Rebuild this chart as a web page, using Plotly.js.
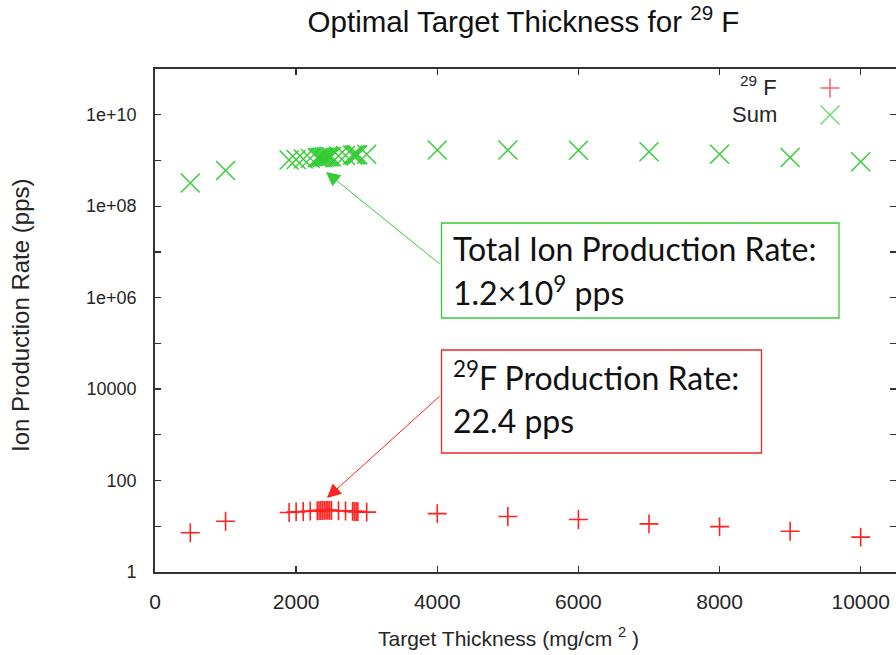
<!DOCTYPE html>
<html>
<head>
<meta charset="utf-8">
<script src="https://cdn.plot.ly/plotly-3.0.1.min.js"></script>
<style>
  html, body { margin: 0; padding: 0; background: #ffffff; }
  #chart { width: 896px; height: 655px; }
</style>
</head>
<body>
<div id="chart"></div>
<script>
// Target thickness scan (mg/cm^2)
const thickness = [500, 1000, 1900, 2000, 2100, 2200, 2300, 2325, 2350, 2375, 2400, 2425,
  2450, 2475, 2500, 2600, 2700, 2800, 2825, 2850, 2875, 3000,
  4000, 5000, 6000, 7000, 8000, 9000, 10000];

// 29F production rate (pps)
const rateF29 = [7.2, 12.9, 20.0, 20.6, 21.1, 21.5, 21.9, 22.0, 22.1, 22.2, 22.3, 22.3,
  22.4, 22.3, 22.2, 21.9, 21.6, 21.2, 21.1, 21.0, 20.9, 20.4,
  18.9, 16.3, 14.1, 11.3, 9.8, 7.8, 5.8];

// Total ion production rate, all species (pps)
const rateSum = [3.2e8, 6.0e8, 1.02e9, 1.05e9, 1.08e9, 1.11e9, 1.15e9, 1.16e9, 1.17e9, 1.18e9, 1.19e9, 1.19e9,
  1.2e9, 1.21e9, 1.22e9, 1.25e9, 1.28e9, 1.31e9, 1.32e9, 1.33e9, 1.33e9, 1.37e9,
  1.69e9, 1.69e9, 1.68e9, 1.55e9, 1.37e9, 1.16e9, 9.4e8];

// Axis ticks
const xTicks = [0, 2000, 4000, 6000, 8000, 10000];
const yTickVals = [1, 10, 100, 1e3, 1e4, 1e5, 1e6, 1e7, 1e8, 1e9, 1e10];
const yTickText = ['1', '', '100', '', '10000', '', '1e+06', '', '1e+08', '', '1e+10'];

// Legend labels
const legendLabels = ['<sup>29</sup> F', 'Sum'];

const RED = '#ff2222';
const GREEN = '#33cc33';
const AXIS = '#333333';
const SANS = 'Liberation Sans, Arial, sans-serif';
const TEXT = '#262626';
const BOXFONT = { family: 'Lato, sans-serif', size: 32, color: '#111111' };

// plot area in pixels (for placing boxes and legend)
const L = 155, R = 896, T = 69, B = 572;
const px = v => (v - L) / (R - L);
const py = v => (B - v) / (B - T);

const traces = [
  {
    x: thickness, y: rateF29, type: 'scatter', mode: 'markers', name: legendLabels[0],
    marker: { symbol: 'cross-thin', size: 13.5, color: RED, line: { color: RED, width: 1.6 } },
    showlegend: false, cliponaxis: false
  },
  {
    x: thickness, y: rateSum, type: 'scatter', mode: 'markers', name: legendLabels[1],
    marker: { symbol: 'x-thin', size: 19, color: GREEN, line: { color: GREEN, width: 1.4 } },
    showlegend: false, cliponaxis: false
  },
  // legend keys, on a hidden unit overlay
  {
    x: [px(830), px(830)], y: [py(88), py(115)], xaxis: 'x2', yaxis: 'y2',
    type: 'scatter', mode: 'markers', hoverinfo: 'skip', showlegend: false,
    marker: {
      symbol: ['cross-thin', 'x-thin'], size: [13.5, 19], color: [RED, GREEN],
      line: { color: [RED, GREEN], width: 1.5 }
    }
  }
];

const annotations = [
  // legend text
  { xref: 'paper', yref: 'paper', x: px(779), y: py(86), xanchor: 'right', yanchor: 'middle',
    text: legendLabels[0], showarrow: false, font: { family: SANS, size: 22, color: TEXT } },
  { xref: 'paper', yref: 'paper', x: px(779), y: py(114), xanchor: 'right', yanchor: 'middle',
    text: legendLabels[1], showarrow: false, font: { family: SANS, size: 22, color: TEXT } },

  // axis titles
  { xref: 'paper', yref: 'paper', x: px(508), y: py(637), xanchor: 'center', yanchor: 'middle',
    text: 'Target Thickness (mg/cm <sup>2</sup> )', showarrow: false,
    font: { family: SANS, size: 21, color: TEXT } },
  { xref: 'paper', yref: 'paper', x: px(20), y: py(316), xanchor: 'center', yanchor: 'middle',
    text: 'Ion Production Rate (pps)', textangle: -90, showarrow: false,
    font: { family: SANS, size: 24, color: TEXT } },

  // callout text: total rate
  { xref: 'paper', yref: 'paper', x: px(451), y: py(248), xanchor: 'left', yanchor: 'middle',
    text: 'Total Ion Production Rate:', showarrow: false, font: BOXFONT },
  { xref: 'paper', yref: 'paper', x: px(451), y: py(291), xanchor: 'left', yanchor: 'middle',
    text: '1.2×10<sup>9</sup> pps', showarrow: false, font: BOXFONT },
  // callout text: 29F rate
  { xref: 'paper', yref: 'paper', x: px(451), y: py(376), xanchor: 'left', yanchor: 'middle',
    text: '<sup>29</sup>F Production Rate:', showarrow: false, font: BOXFONT },
  { xref: 'paper', yref: 'paper', x: px(451), y: py(420), xanchor: 'left', yanchor: 'middle',
    text: '22.4 pps', showarrow: false, font: BOXFONT },

  // arrows from the callouts
  { xref: 'paper', yref: 'paper', x: px(326), y: py(172), ax: 115, ay: 93, text: '',
    showarrow: true, arrowhead: 2, arrowsize: 2.8, arrowwidth: 1, arrowcolor: GREEN, standoff: 0 },
  { xref: 'paper', yref: 'paper', x: px(327), y: py(498), ax: 114, ay: -103, text: '',
    showarrow: true, arrowhead: 2, arrowsize: 2.8, arrowwidth: 1, arrowcolor: RED, standoff: 0 }
];

const shapes = [
  { type: 'rect', xref: 'paper', yref: 'paper', x0: px(441.5), x1: px(839), y0: py(318), y1: py(223),
    line: { color: GREEN, width: 1.3 }, fillcolor: 'rgba(255,255,255,0)' },
  { type: 'rect', xref: 'paper', yref: 'paper', x0: px(441.5), x1: px(761.5), y0: py(453), y1: py(350),
    line: { color: '#e82828', width: 1.3 }, fillcolor: 'rgba(255,255,255,0)' }
];

const layout = {
  width: 896, height: 655,
  margin: { l: L, r: 896 - R, t: T, b: 655 - B, pad: 0 },
  paper_bgcolor: '#ffffff', plot_bgcolor: '#ffffff',
  showlegend: false,
  title: {
    text: 'Optimal Target Thickness for <sup>29</sup> F',
    font: { family: SANS, size: 29.5, color: '#111111' },
    xref: 'container', yref: 'container', x: 523.5 / 896, y: 1 - 22 / 655,
    xanchor: 'center', yanchor: 'middle'
  },
  xaxis: {
    range: [0, 10500], tickvals: xTicks, ticktext: xTicks.map(String),
    ticks: 'inside', ticklen: 6, tickwidth: 1.3, tickcolor: AXIS,
    showline: true, linecolor: AXIS, linewidth: 1.8, mirror: 'allticks',
    showgrid: false, zeroline: false, tickfont: { family: SANS, size: 21, color: TEXT },
    ticklabelstandoff: 10
  },
  yaxis: {
    type: 'log', range: [0, 11], tickvals: yTickVals, ticktext: yTickText,
    ticks: 'inside', ticklen: 6, tickwidth: 1.3, tickcolor: AXIS,
    showline: true, linecolor: AXIS, linewidth: 1.8, mirror: 'allticks',
    showgrid: false, zeroline: false, tickfont: { family: SANS, size: 18, color: TEXT },
    ticklabelstandoff: 13
  },
  xaxis2: { overlaying: 'x', range: [0, 1], visible: false, fixedrange: true },
  yaxis2: { overlaying: 'y', range: [0, 1], visible: false, fixedrange: true },
  annotations: annotations,
  shapes: shapes
};

Plotly.newPlot('chart', traces, layout, { displayModeBar: false, staticPlot: true });
</script>
</body>
</html>
